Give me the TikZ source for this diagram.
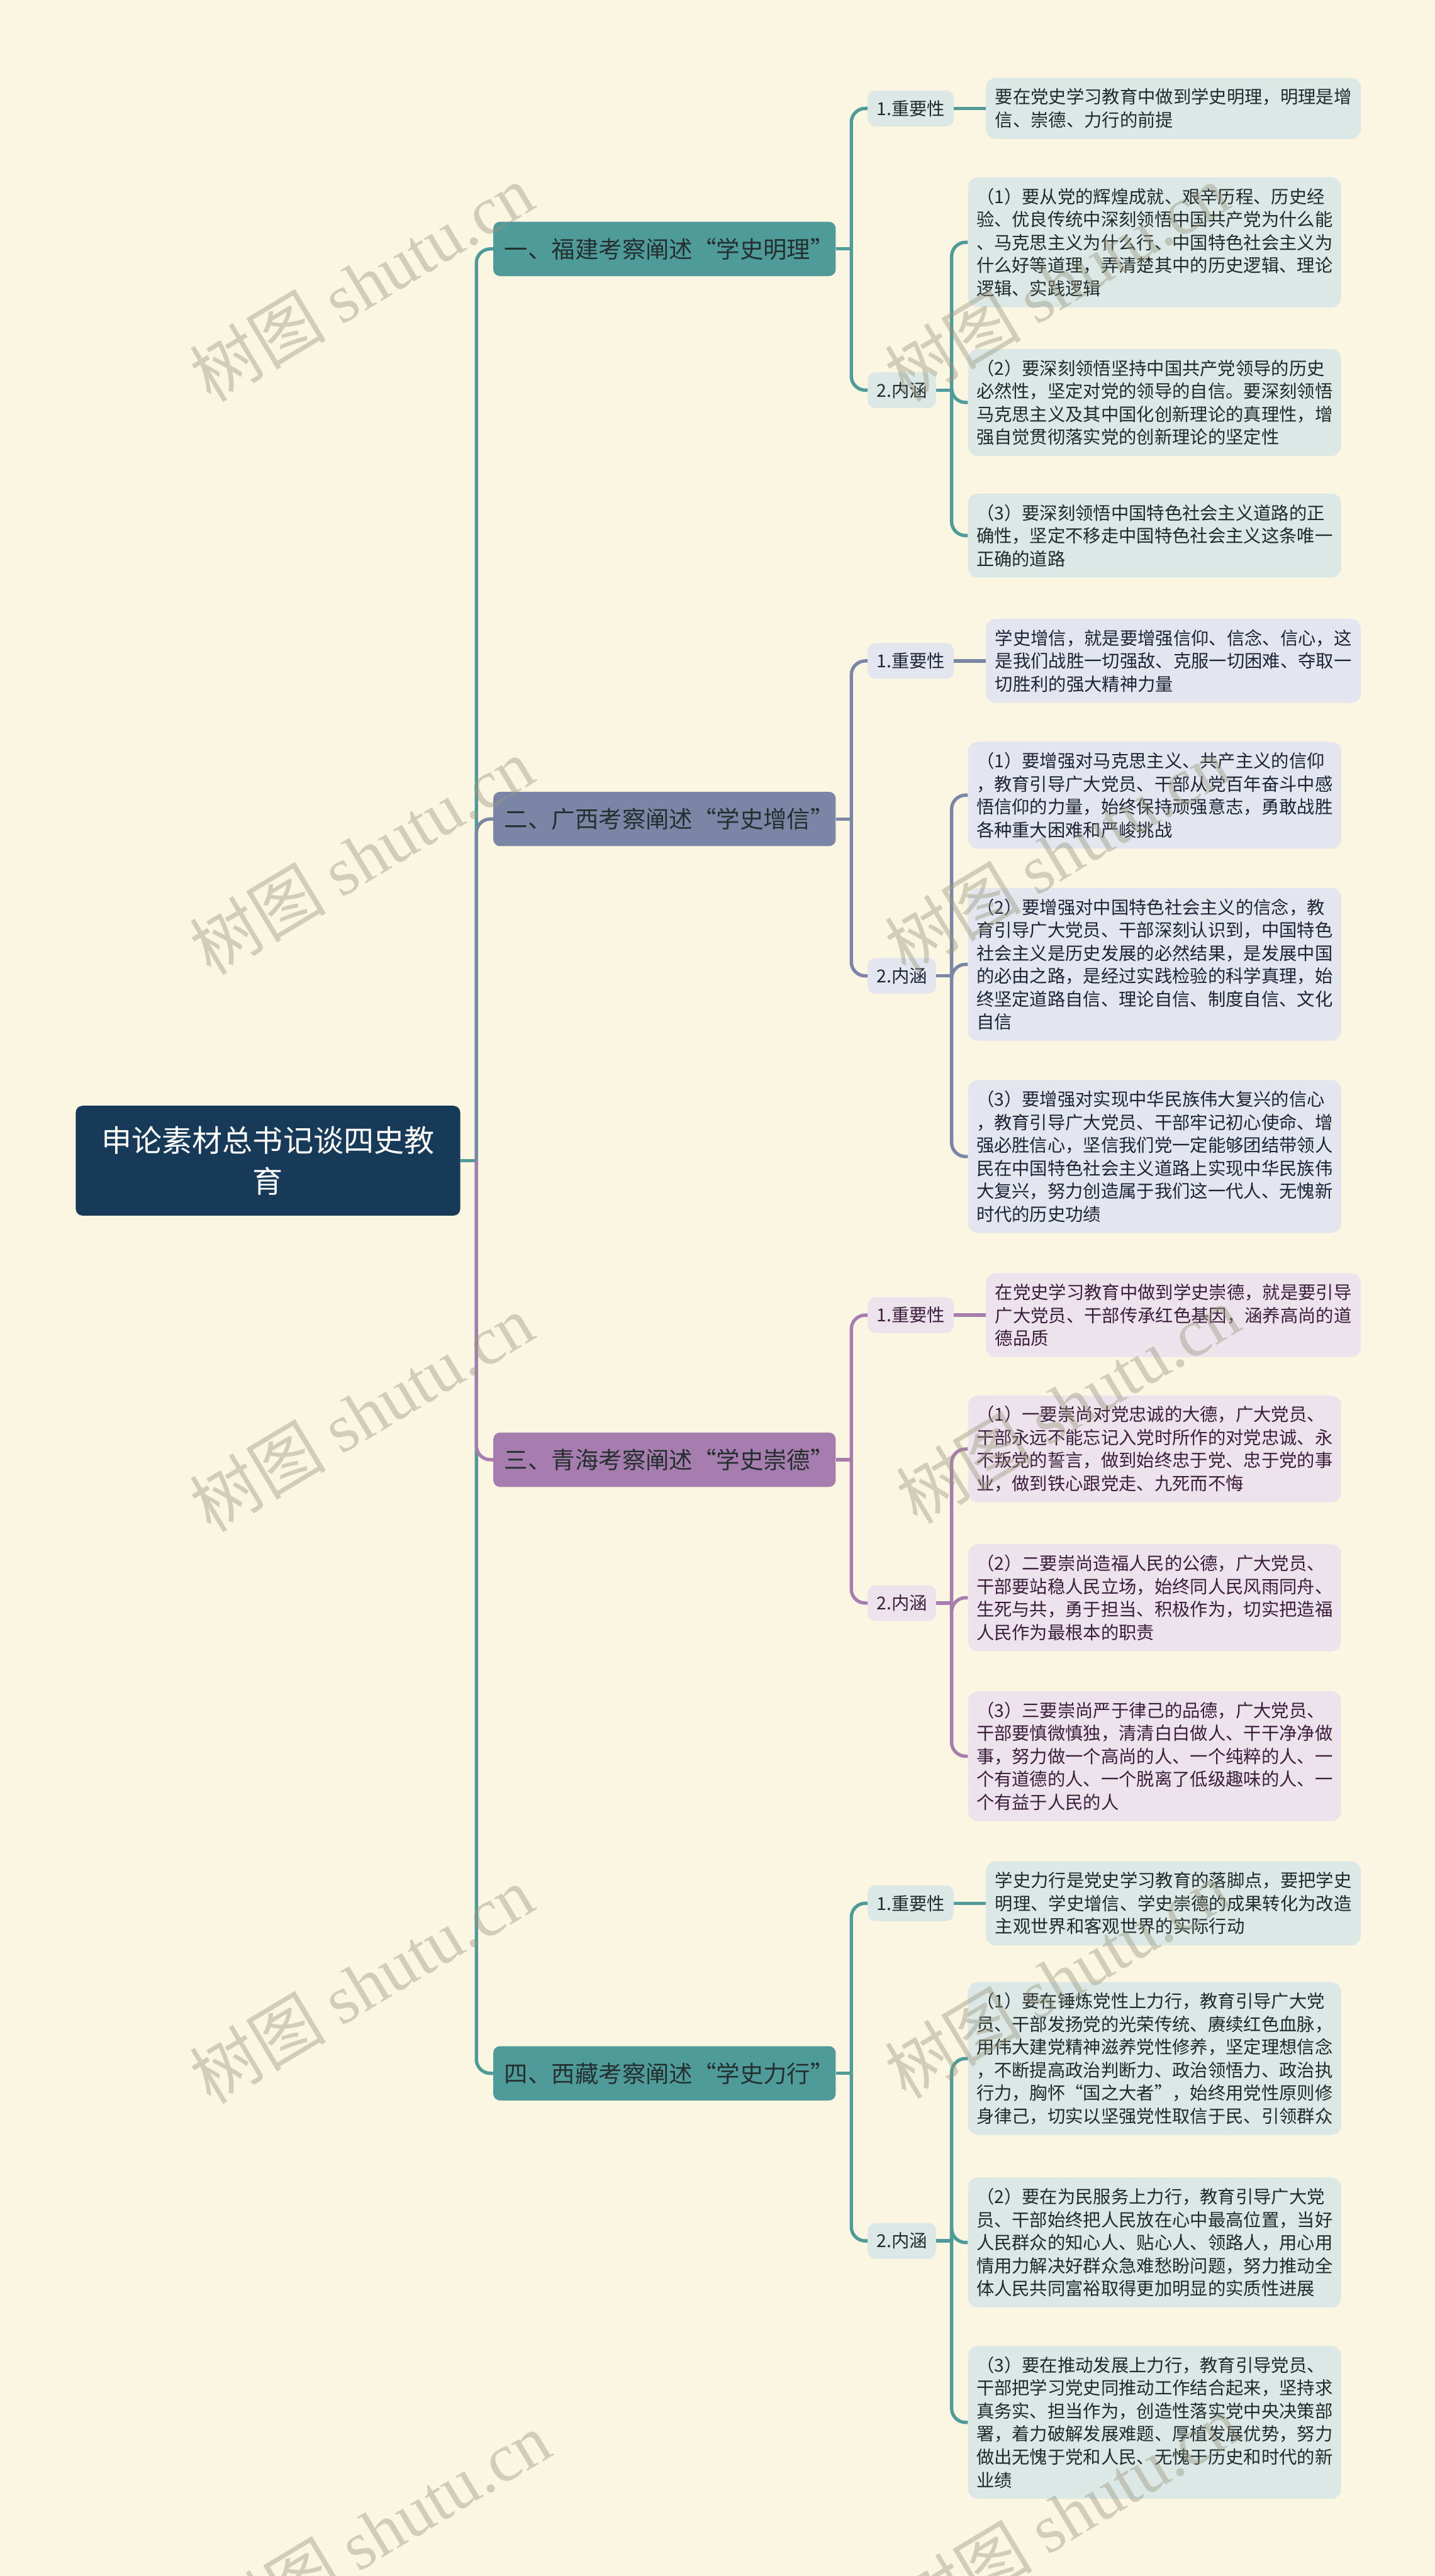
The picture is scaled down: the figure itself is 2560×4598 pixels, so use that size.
\documentclass[tikz,border=0pt]{standalone}
\usepackage{fontspec}
\setmainfont{Noto Sans CJK SC}
\newfontfamily\wmlatin{Liberation Serif}
\newfontfamily\wmcjk{Noto Sans CJK SC}
\definecolor{bg}{HTML}{FAF6E1}
\definecolor{rootc}{HTML}{173A59}
\definecolor{tealc}{HTML}{4F9B99}
\definecolor{slatec}{HTML}{7B85A5}
\definecolor{purpc}{HTML}{A77CAE}
\definecolor{leafA}{HTML}{DBE8E6}
\definecolor{leafB}{HTML}{E3E6EE}
\definecolor{leafC}{HTML}{EDE3EC}
\definecolor{textA}{HTML}{1F2B2B}
\definecolor{textB}{HTML}{1F2335}
\definecolor{textC}{HTML}{3B1E3B}
\definecolor{maintext}{HTML}{243030}
\definecolor{wmc}{HTML}{9B967E}
\newcommand{\leaffont}{\fontsize{31.8pt}{41pt}\selectfont}
\newcommand{\brfont}{\fontsize{42pt}{50pt}\selectfont}
\newcommand{\rtfont}{\fontsize{54pt}{73pt}\selectfont}
\newcommand{\wmfont}{\fontsize{122pt}{130pt}\selectfont}
\begin{document}
\begin{tikzpicture}[x=1pt,y=-1pt,
  rootbox/.style={rounded corners=12pt, fill=rootc, text=white, font=\rtfont, align=center,
    text width=640pt, minimum width=686pt, minimum height=196pt, inner xsep=23pt, anchor=west},
  mainbox/.style={rounded corners=12pt, font=\brfont, text=maintext, align=left,
    text width=571pt, inner xsep=20pt, minimum height=97pt, anchor=west},
  subbox/.style={rounded corners=14pt, font=\leaffont, inner xsep=16pt, inner ysep=4pt,
    minimum height=64pt, anchor=west},
  leafbox/.style={rounded corners=18pt, font=\leaffont, text width=636pt, align=left,
    inner xsep=15pt, inner ysep=5pt, anchor=west},
  impleaf/.style={leafbox, inner xsep=16.5pt},
  L2/.style={minimum height=109pt}, L3/.style={minimum height=150pt},
  L4/.style={minimum height=191pt}, L5/.style={minimum height=232pt},
  L6/.style={minimum height=273pt},
  conline/.style={line width=6pt},
  elbow/.style={conline, rounded corners=25pt},
  wm/.style={text=wmc, text opacity=0.42, font=\wmfont, rotate=31, inner sep=0pt},
]
\fill[bg] (0,0) rectangle (2560,4598);
\useasboundingbox (0,0) rectangle (2560,4598);

% ---------- nodes ----------
\node[rootbox] (root) at (135,2071.7) {申论素材总书记谈四史教\\育};

\node[mainbox, fill=tealc]  (m1) at (880,444.3)  {一、福建考察阐述“学史明理”};
\node[mainbox, fill=slatec] (m2) at (880,1461.8) {二、广西考察阐述“学史增信”};
\node[mainbox, fill=purpc]  (m3) at (880,2605.5) {三、青海考察阐述“学史崇德”};
\node[mainbox, fill=tealc]  (m4) at (880,3700.7) {四、西藏考察阐述“学史力行”};

% branch 1
\node[subbox, fill=leafA, text=textA] (i1) at (1548,193.5) {1.重要性};
\node[subbox, fill=leafA, text=textA] (n1) at (1548,696.4) {2.内涵};
\node[impleaf, L2, fill=leafA, text=textA] (p1) at (1759,193.5) {要在党史学习教育中做到学史明理，明理是增\\信、崇德、力行的前提};
\node[leafbox, L5, fill=leafA, text=textA] (a11) at (1727,432.5) {（1）要从党的辉煌成就、艰辛历程、历史经\\验、优良传统中深刻领悟中国共产党为什么能\\、马克思主义为什么行、中国特色社会主义为\\什么好等道理，弄清楚其中的历史逻辑、理论\\逻辑、实践逻辑};
\node[leafbox, L4, fill=leafA, text=textA] (a12) at (1727,718.4) {（2）要深刻领悟坚持中国共产党领导的历史\\必然性，坚定对党的领导的自信。要深刻领悟\\马克思主义及其中国化创新理论的真理性，增\\强自觉贯彻落实党的创新理论的坚定性};
\node[leafbox, L3, fill=leafA, text=textA] (a13) at (1727,956.0) {（3）要深刻领悟中国特色社会主义道路的正\\确性，坚定不移走中国特色社会主义这条唯一\\正确的道路};

% branch 2
\node[subbox, fill=leafB, text=textB] (i2) at (1548,1179.7) {1.重要性};
\node[subbox, fill=leafB, text=textB] (n2) at (1548,1741.9) {2.内涵};
\node[impleaf, L3, fill=leafB, text=textB] (p2) at (1759,1179.7) {学史增信，就是要增强信仰、信念、信心，这\\是我们战胜一切强敌、克服一切困难、夺取一\\切胜利的强大精神力量};
\node[leafbox, L4, fill=leafB, text=textB] (a21) at (1727,1419.3) {（1）要增强对马克思主义、共产主义的信仰\\，教育引导广大党员、干部从党百年奋斗中感\\悟信仰的力量，始终保持顽强意志，勇敢战胜\\各种重大困难和严峻挑战};
\node[leafbox, L6, fill=leafB, text=textB] (a22) at (1727,1721.3) {（2）要增强对中国特色社会主义的信念，教\\育引导广大党员、干部深刻认识到，中国特色\\社会主义是历史发展的必然结果，是发展中国\\的必由之路，是经过实践检验的科学真理，始\\终坚定道路自信、理论自信、制度自信、文化\\自信};
\node[leafbox, L6, fill=leafB, text=textB] (a23) at (1727,2064.4) {（3）要增强对实现中华民族伟大复兴的信心\\，教育引导广大党员、干部牢记初心使命、增\\强必胜信心，坚信我们党一定能够团结带领人\\民在中国特色社会主义道路上实现中华民族伟\\大复兴，努力创造属于我们这一代人、无愧新\\时代的历史功绩};

% branch 3
\node[subbox, fill=leafC, text=textC] (i3) at (1548,2347.4) {1.重要性};
\node[subbox, fill=leafC, text=textC] (n3) at (1548,2861.4) {2.内涵};
\node[impleaf, L3, fill=leafC, text=textC] (p3) at (1759,2347.4) {在党史学习教育中做到学史崇德，就是要引导\\广大党员、干部传承红色基因，涵养高尚的道\\德品质};
\node[leafbox, L4, fill=leafC, text=textC] (a31) at (1727,2586.4) {（1）一要崇尚对党忠诚的大德，广大党员、\\干部永远不能忘记入党时所作的对党忠诚、永\\不叛党的誓言，做到始终忠于党、忠于党的事\\业，做到铁心跟党走、九死而不悔};
\node[leafbox, L4, fill=leafC, text=textC] (a32) at (1727,2851.8) {（2）二要崇尚造福人民的公德，广大党员、\\干部要站稳人民立场，始终同人民风雨同舟、\\生死与共，勇于担当、积极作为，切实把造福\\人民作为最根本的职责};
\node[leafbox, L5, fill=leafC, text=textC] (a33) at (1727,3134.7) {（3）三要崇尚严于律己的品德，广大党员、\\干部要慎微慎独，清清白白做人、干干净净做\\事，努力做一个高尚的人、一个纯粹的人、一\\个有道德的人、一个脱离了低级趣味的人、一\\个有益于人民的人};

% branch 4
\node[subbox, fill=leafA, text=textA] (i4) at (1548,3397.2) {1.重要性};
\node[subbox, fill=leafA, text=textA] (n4) at (1548,3999.8) {2.内涵};
\node[impleaf, L3, fill=leafA, text=textA] (p4) at (1759,3397.2) {学史力行是党史学习教育的落脚点，要把学史\\明理、学史增信、学史崇德的成果转化为改造\\主观世界和客观世界的实际行动};
\node[leafbox, L6, fill=leafA, text=textA] (a41) at (1727,3674.3) {（1）要在锤炼党性上力行，教育引导广大党\\员、干部发扬党的光荣传统、赓续红色血脉，\\用伟大建党精神滋养党性修养，坚定理想信念\\，不断提高政治判断力、政治领悟力、政治执\\行力，胸怀“国之大者”，始终用党性原则修\\身律己，切实以坚强党性取信于民、引领群众};
\node[leafbox, L5, fill=leafA, text=textA] (a42) at (1727,4002.7) {（2）要在为民服务上力行，教育引导广大党\\员、干部始终把人民放在心中最高位置，当好\\人民群众的知心人、贴心人、领路人，用心用\\情用力解决好群众急难愁盼问题，努力推动全\\体人民共同富裕取得更加明显的实质性进展};
\node[leafbox, L6, fill=leafA, text=textA] (a43) at (1727,4323.8) {（3）要在推动发展上力行，教育引导党员、\\干部把学习党史同推动工作结合起来，坚持求\\真务实、担当作为，创造性落实党中央决策部\\署，着力破解发展难题、厚植发展优势，努力\\做出无愧于党和人民、无愧于历史和时代的新\\业绩};

% ---------- junction coordinates ----------
\coordinate (t) at (850,2071.7);
\coordinate (s1) at (1519,444.3);  \coordinate (c1) at (1698,696.4);
\coordinate (s2) at (1519,1461.8); \coordinate (c2) at (1698,1741.9);
\coordinate (s3) at (1519,2605.5); \coordinate (c3) at (1698,2861.4);
\coordinate (s4) at (1519,3700.7); \coordinate (c4) at (1698,3999.8);

% ---------- connectors ----------
\draw[conline, tealc] (root.east) -- (t);
\draw[elbow, tealc] (t) |- (m1.west);
\draw[elbow, slatec] (t) |- (m2.west);
\draw[elbow, tealc] (t) |- (m4.west);
\draw[elbow, purpc] (t) |- (m3.west);

\draw[conline, tealc] (m1.east) -- (s1);
\draw[elbow, tealc] (s1) |- (i1.west);
\draw[elbow, tealc] (s1) |- (n1.west);
\draw[conline, tealc] (i1.east) -- (p1.west);
\draw[conline, tealc] (n1.east) -- (c1);
\draw[elbow, tealc] (c1) |- (a11.west);
\draw[elbow, tealc] (c1) |- (a12.west);
\draw[elbow, tealc] (c1) |- (a13.west);

\draw[conline, slatec] (m2.east) -- (s2);
\draw[elbow, slatec] (s2) |- (i2.west);
\draw[elbow, slatec] (s2) |- (n2.west);
\draw[conline, slatec] (i2.east) -- (p2.west);
\draw[conline, slatec] (n2.east) -- (c2);
\draw[elbow, slatec] (c2) |- (a21.west);
\draw[elbow, slatec] (c2) |- (a22.west);
\draw[elbow, slatec] (c2) |- (a23.west);

\draw[conline, purpc] (m3.east) -- (s3);
\draw[elbow, purpc] (s3) |- (i3.west);
\draw[elbow, purpc] (s3) |- (n3.west);
\draw[conline, purpc] (i3.east) -- (p3.west);
\draw[conline, purpc] (n3.east) -- (c3);
\draw[elbow, purpc] (c3) |- (a31.west);
\draw[elbow, purpc] (c3) |- (a32.west);
\draw[elbow, purpc] (c3) |- (a33.west);

\draw[conline, tealc] (m4.east) -- (s4);
\draw[elbow, tealc] (s4) |- (i4.west);
\draw[elbow, tealc] (s4) |- (n4.west);
\draw[conline, tealc] (i4.east) -- (p4.west);
\draw[conline, tealc] (n4.east) -- (c4);
\draw[elbow, tealc] (c4) |- (a41.west);
\draw[elbow, tealc] (c4) |- (a42.west);
\draw[elbow, tealc] (c4) |- (a43.west);

% ---------- watermarks ----------
\node[wm] (w1) at (645,505)  {{\wmcjk 树图} {\wmlatin shutu.cn}};
\node[wm] (w2) at (645,1528) {{\wmcjk 树图} {\wmlatin shutu.cn}};
\node[wm] (w3) at (645,2522) {{\wmcjk 树图} {\wmlatin shutu.cn}};
\node[wm] (w4) at (645,3542) {{\wmcjk 树图} {\wmlatin shutu.cn}};
\node[wm] (w5) at (675,4516) {{\wmcjk 树图} {\wmlatin shutu.cn}};
\node[wm] (w6) at (1885,505)  {{\wmcjk 树图} {\wmlatin shutu.cn}};
\node[wm] (w7) at (1885,1525) {{\wmcjk 树图} {\wmlatin shutu.cn}};
\node[wm] (w8) at (1905,2507) {{\wmcjk 树图} {\wmlatin shutu.cn}};
\node[wm] (w9) at (1885,3533) {{\wmcjk 树图} {\wmlatin shutu.cn}};
\node[wm] (w10) at (1905,4486) {{\wmcjk 树图} {\wmlatin shutu.cn}};
\end{tikzpicture}
\end{document}
